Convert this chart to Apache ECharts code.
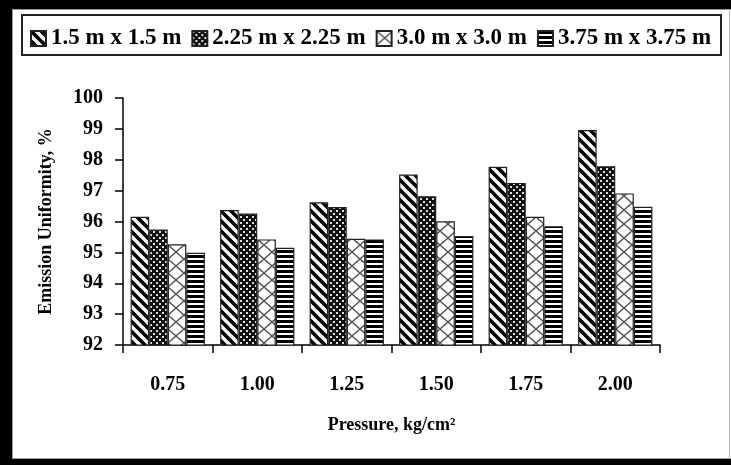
<!DOCTYPE html>
<html>
<head>
<meta charset="utf-8">
<script src="https://cdn.jsdelivr.net/npm/echarts@6/dist/echarts.min.js"></script>
<style>
  html, body { margin: 0; padding: 0; background: #fff; width: 731px; height: 465px; overflow: hidden; }
  .band { position: absolute; background: #000; }
  #bandL { left: 0; top: 0; width: 12px; height: 465px; }
  #bandT { left: 0; top: 0; width: 760px; height: 9px; }
  #bandB { left: 0; top: 459px; width: 760px; height: 6px; }
  #sheet { position: absolute; left: 12px; top: 9px; width: 760px; height: 450px; box-sizing: border-box;
           border: 1px solid #999; border-right: none; background: #fff; }
  #edge { position: absolute; left: 729px; top: 9px; width: 1px; height: 450px; background: #bbb; }
  #chart { position: absolute; left: 0; top: 0; width: 731px; height: 465px; }
</style>
</head>
<body>
<div class="band" id="bandL"></div>
<div class="band" id="bandT"></div>
<div class="band" id="bandB"></div>
<div id="sheet"></div>
<div id="edge"></div>
<div id="chart"></div>
<script>
// Pressure levels on the x axis
const pressures = ['0.75', '1.00', '1.25', '1.50', '1.75', '2.00'];
// Lateral x emitter spacing, one series each
const spacingNames = ['1.5 m x 1.5 m', '2.25 m x 2.25 m', '3.0 m x 3.0 m', '3.75 m x 3.75 m'];
// Emission uniformity (%) per spacing
const eu15 = [96.15, 96.37, 96.62, 97.52, 97.77, 98.96];
const eu225 = [95.74, 96.26, 96.47, 96.82, 97.25, 97.79];
const eu30 = [95.26, 95.42, 95.44, 96.01, 96.15, 96.91];
const eu375 = [94.99, 95.15, 95.42, 95.53, 95.85, 96.48];
// Y axis range
const yMin = 92, yMax = 100, yStep = 1;

const serif = '"Liberation Serif", "Times New Roman", serif';

// Hatch fills, drawn on small tiles
function tile(w, h, draw) {
  const c = document.createElement('canvas');
  c.width = w; c.height = h;
  const g = c.getContext('2d');
  draw(g, w, h);
  return { image: c, repeat: 'repeat' };
}
const hatchDiag = tile(10, 10, (g, w, h) => {
  g.fillStyle = '#fff'; g.fillRect(0, 0, w, h);
  g.strokeStyle = '#000'; g.lineWidth = 3.6;
  for (const off of [-10, 0, 10]) {
    g.beginPath(); g.moveTo(off - 2, -2); g.lineTo(off + 12, 12); g.stroke();
  }
});
const hatchDots = tile(6, 6, (g, w, h) => {
  g.fillStyle = '#111'; g.fillRect(0, 0, w, h);
  g.fillStyle = '#ddd'; g.fillRect(0, 0, 2, 2); g.fillRect(3, 3, 2, 2);
});
const hatchCross = tile(16, 14, (g, w, h) => {
  g.fillStyle = '#fff'; g.fillRect(0, 0, w, h);
  g.strokeStyle = '#555'; g.lineWidth = 1.4;
  g.beginPath(); g.moveTo(0, 0); g.lineTo(w, h); g.moveTo(w, 0); g.lineTo(0, h); g.stroke();
});
const hatchHoriz = tile(5, 5, (g, w, h) => {
  g.fillStyle = '#fff'; g.fillRect(0, 0, w, h);
  g.fillStyle = '#000'; g.fillRect(0, 0, w, 3);
});
const fills = [hatchDiag, hatchDots, hatchCross, hatchHoriz];
const values = [eu15, eu225, eu30, eu375];

const chart = echarts.init(document.getElementById('chart'), null, { renderer: 'canvas' });
chart.setOption({
  animation: false,
  backgroundColor: 'transparent',
  graphic: [{
    type: 'rect', shape: { x: 22, y: 15, width: 699, height: 40 },
    style: { fill: 'none', stroke: '#222', lineWidth: 2 }, silent: true
  }],
  legend: {
    top: 22, left: 25,
    itemWidth: 15, itemHeight: 15, itemGap: 10,
    icon: 'rect',
    textStyle: { fontFamily: serif, fontWeight: 'bold', fontSize: 23, color: '#000' },
    data: spacingNames
  },
  grid: { left: 123, right: 71, top: 98, bottom: 120, containLabel: false },
  xAxis: {
    type: 'category', data: pressures, boundaryGap: true,
    name: 'Pressure, kg/cm²', nameLocation: 'middle', nameGap: 71,
    nameTextStyle: { fontFamily: serif, fontWeight: 'bold', fontSize: 18, color: '#000' },
    axisLine: { lineStyle: { color: '#000', width: 1.5 } },
    axisTick: { show: true, length: 8, lineStyle: { color: '#000', width: 1.5 } },
    axisLabel: { margin: 30, fontFamily: serif, fontWeight: 'bold', fontSize: 20, color: '#000' },
    splitLine: { show: false }
  },
  yAxis: {
    type: 'value', min: yMin, max: yMax, interval: yStep,
    name: 'Emission Uniformity, %', nameLocation: 'middle', nameGap: 68, nameRotate: 90,
    nameTextStyle: { fontFamily: serif, fontWeight: 'bold', fontSize: 18, color: '#000' },
    axisLine: { show: true, lineStyle: { color: '#000', width: 1.5 } },
    axisTick: { show: true, length: 8, lineStyle: { color: '#000', width: 1.5 } },
    axisLabel: { margin: 20, fontFamily: serif, fontWeight: 'bold', fontSize: 20, color: '#000' },
    splitLine: { show: false }
  },
  series: spacingNames.map((name, i) => ({
    name, type: 'bar', data: values[i],
    barGap: '0%', barCategoryGap: '17%',
    itemStyle: { color: fills[i], borderColor: '#222', borderWidth: 1.2 }
  }))
});
</script>
</body>
</html>
